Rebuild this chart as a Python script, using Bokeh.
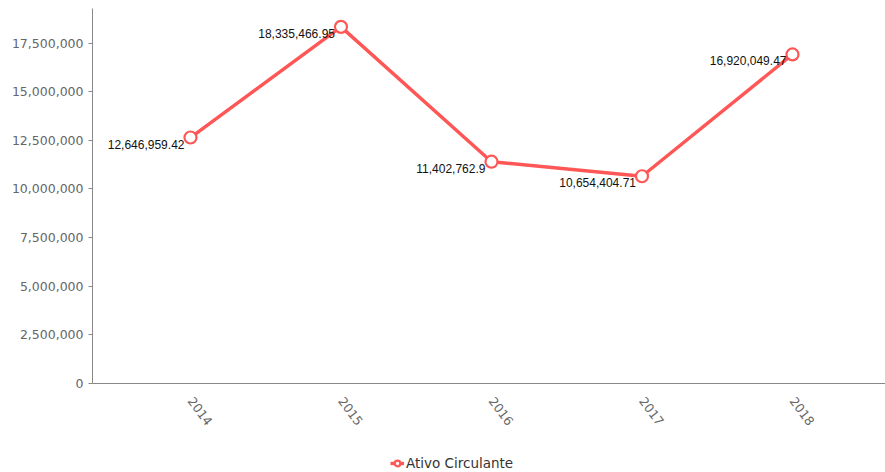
from bokeh.plotting import figure
from bokeh.layouts import column
from bokeh.models import (ColumnDataSource, LabelSet, Legend, LegendItem,
                          NumeralTickFormatter, FixedTicker, Range1d)
from bokeh.core.properties import value
from bokeh.embed import file_html
from bokeh.resources import INLINE
import math

years = ["2014", "2015", "2016", "2017", "2018"]
ativo_circulante = [12646959.42, 18335466.95, 11402762.9, 10654404.71, 16920049.47]
y_ticks = [0, 2500000, 5000000, 7500000, 10000000, 12500000, 15000000, 17500000]
series_name = "Ativo Circulante"

xs = list(range(len(years)))
labels = [f"{v:,}" for v in ativo_circulante]
src = ColumnDataSource(dict(x=xs, y=ativo_circulante, label=labels))

RED = "#ff5656"

p = figure(width=885, height=446, output_backend="svg", toolbar_location=None,
           x_range=Range1d(-0.651, 4.618), y_range=Range1d(0, 19280000),
           min_border_left=92, min_border_right=0, min_border_top=8, min_border_bottom=63)
p.outline_line_color = None
p.xgrid.visible = False
p.ygrid.visible = False

line = p.line("x", "y", source=src, line_color=RED, line_width=3.4)
pts = p.scatter("x", "y", source=src, size=12, fill_color="white",
                line_color=RED, line_width=2.2)

lbl = LabelSet(x="x", y="y", text="label", source=src, text_align="right",
               text_baseline="top", x_offset=-6, y_offset=-2,
               text_font=value("Liberation Sans"), text_font_size=value("12px"),
               text_color="#111111")
p.add_layout(lbl)

p.yaxis.ticker = FixedTicker(ticks=y_ticks)
p.yaxis.formatter = NumeralTickFormatter(format="0,0")
p.yaxis.major_label_text_font = "DejaVu Sans"
p.yaxis.major_label_text_font_size = "12.5px"
p.yaxis.major_label_text_color = "#666666"
p.yaxis.axis_line_color = "#888888"
p.yaxis.major_tick_line_color = "#888888"
p.yaxis.major_tick_out = 4
p.yaxis.major_tick_in = 0
p.yaxis.minor_tick_line_color = None
p.yaxis.major_label_standoff = 5

p.xaxis.ticker = FixedTicker(ticks=xs)
p.xaxis.major_label_overrides = {i: y for i, y in enumerate(years)}
p.xaxis.major_label_orientation = -math.radians(53)
p.xaxis.major_label_text_font = "DejaVu Sans"
p.xaxis.major_label_text_font_size = "12.5px"
p.xaxis.major_label_text_color = "#666666"
p.xaxis.axis_line_color = "#888888"
p.xaxis.major_tick_line_color = None
p.xaxis.minor_tick_line_color = None
p.xaxis.major_label_standoff = 9

# legend strip below the chart (series drawn off-view, only its legend shows)
lf = figure(width=885, height=26, output_backend="svg", toolbar_location=None,
            x_axis_location=None, y_axis_location=None,
            x_range=Range1d(0, 1), y_range=Range1d(0, 1),
            min_border_left=0, min_border_right=0, min_border_top=0, min_border_bottom=0)
lf.grid.visible = False
lf.outline_line_color = None
lline = lf.line("x", "y", source=src, line_color=RED, line_width=3.4)
lpts = lf.scatter("x", "y", source=src, size=12, fill_color="white",
                  line_color=RED, line_width=2.2)
legend = Legend(items=[LegendItem(label=series_name, renderers=[lline, lpts])],
                location=(298, 1), orientation="horizontal",
                label_text_font="DejaVu Sans", label_text_font_size="13.5px",
                label_text_color="#333333", border_line_color=None,
                background_fill_alpha=0, glyph_width=14, glyph_height=16,
                label_standoff=2, padding=3, margin=0)
lf.add_layout(legend, "center")

open("out.html", "w").write(file_html(column(p, lf, spacing=0), INLINE))
